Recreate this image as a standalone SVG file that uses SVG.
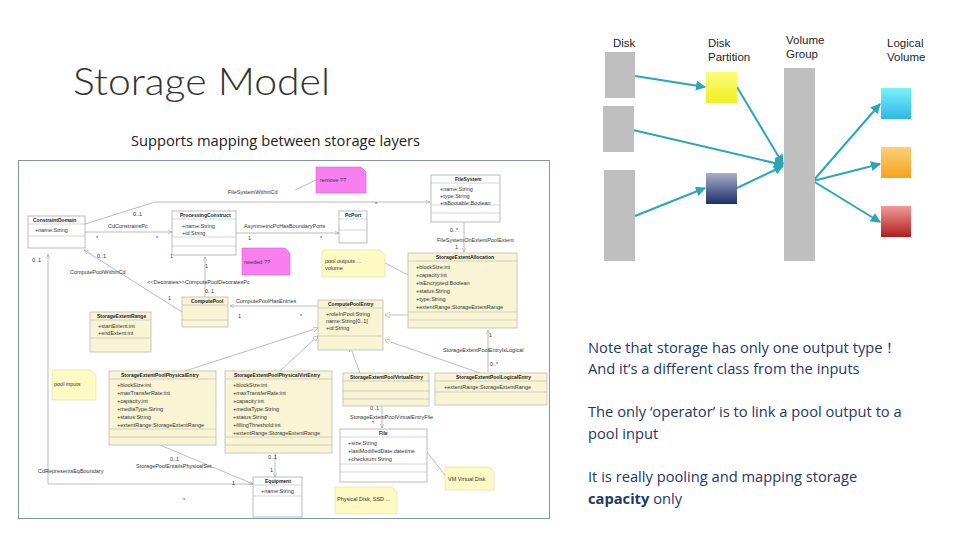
<svg xmlns="http://www.w3.org/2000/svg" width="960" height="540" viewBox="0 0 960 540">
<defs>
<marker id="ah" viewBox="0 0 10 10" refX="9" refY="5" markerWidth="5" markerHeight="5" orient="auto"><path d="M0,0L10,5L0,10z" fill="#2aa6b8"/></marker>
<marker id="oa" viewBox="0 0 10 10" refX="9" refY="5" markerWidth="6" markerHeight="6" orient="auto"><path d="M0,1L9,5L0,9" fill="none" stroke="#999"/></marker>
<marker id="tri" viewBox="0 0 10 10" refX="9" refY="5" markerWidth="7" markerHeight="7" orient="auto"><path d="M0,0L9,5L0,10z" fill="#fff" stroke="#999"/></marker>
<linearGradient id="gy" x1="0" y1="0" x2="0" y2="1"><stop offset="0" stop-color="#fbfb7a"/><stop offset="1" stop-color="#f0f020"/></linearGradient>
<linearGradient id="gb" x1="0" y1="0" x2="0" y2="1"><stop offset="0" stop-color="#aab0c8"/><stop offset="1" stop-color="#1c2e6a"/></linearGradient>
<linearGradient id="gc" x1="0" y1="0" x2="0" y2="1"><stop offset="0" stop-color="#7af0fc"/><stop offset="1" stop-color="#2fb8e6"/></linearGradient>
<linearGradient id="go" x1="0" y1="0" x2="0" y2="1"><stop offset="0" stop-color="#fcd07a"/><stop offset="1" stop-color="#f5a21c"/></linearGradient>
<linearGradient id="gr" x1="0" y1="0" x2="0" y2="1"><stop offset="0" stop-color="#f29a9a"/><stop offset="1" stop-color="#b01e1e"/></linearGradient>
</defs>
<style>
.t{font-family:"Liberation Sans",Arial,sans-serif}
.body{font-family:"Open Sans","Liberation Sans",sans-serif;fill:#1f3864;font-size:14.7px}
.lbl{font-family:"Liberation Sans",Arial,sans-serif;font-size:11.5px;fill:#222}
.u{font-family:"Liberation Sans",Arial,sans-serif;font-size:5.5px;fill:#333}
.uh{font-family:"Liberation Sans",Arial,sans-serif;font-size:5px;fill:#222;font-weight:bold}
.cw{fill:#fff;stroke:#aaa;stroke-width:0.8}
.cy{fill:#f8f4d4;stroke:#bbb;stroke-width:0.8}
.sep{stroke:#bbb;stroke-width:0.6}
.note{fill:#fff9c4;stroke:#dddd99;stroke-width:0.6}
.pink{fill:#f97ef0;stroke:#e060e0;stroke-width:0.6}
.ln{fill:none;stroke:#aaa;stroke-width:0.8}
.gray{fill:#bfbfbf}
.arr{stroke:#2aa6b8;stroke-width:2;marker-end:url(#ah)}
</style>
<rect width="960" height="540" fill="#fff"/>
<text x="73" y="95" class="t" font-size="38" fill="#333" textLength="257" lengthAdjust="spacingAndGlyphs" style="font-family:Lato,'Liberation Sans',sans-serif;font-weight:300">Storage Model</text>
<text x="131" y="146" class="body" style="fill:#222">Supports mapping between storage layers</text>

<g id="uml">
<rect x="18.5" y="160.5" width="531" height="358" fill="#fff" stroke="#7f97a8" stroke-width="1"/>
<g id="uml-connectors">
<path class="ln" d="M85,224L155,202L430,202" marker-end="url(#oa)"/>
<path class="ln" d="M85,232L172,232" marker-end="url(#oa)"/>
<path class="ln" d="M236,233L339,233" marker-end="url(#oa)"/>
<path class="ln" d="M205,297L205,257" marker-end="url(#oa)"/>
<path class="ln" d="M182,312L84,250" marker-end="url(#oa)"/>
<path class="ln" d="M318,306L230,306" marker-end="url(#oa)"/>
<path class="ln" d="M408,315L385,315" marker-end="url(#tri)"/>
<path class="ln" d="M464,222L464,252" marker-end="url(#oa)"/>
<path class="ln" d="M488,372L488,330" marker-end="url(#oa)"/>
<path class="ln" d="M185,371L318,328" marker-end="url(#tri)"/>
<path class="ln" d="M280,371L318,336" marker-end="url(#tri)"/>
<path class="ln" d="M360,373L350,346" marker-end="url(#tri)"/>
<path class="ln" d="M480,373L385,340" marker-end="url(#tri)"/>
<path class="ln" d="M382,406L382,428" marker-end="url(#oa)"/>
<path class="ln" d="M160,445L253,484" marker-end="url(#oa)"/>
<path class="ln" d="M275,453L275,477" marker-end="url(#oa)"/>
<path class="ln" d="M48,484L48,254" marker-end="url(#oa)"/>
<path class="ln" d="M48,484L253,484"/>
<path class="ln" d="M290,262L242,275"/>
<path class="ln" d="M385,263L408,275"/>
<path class="ln" d="M316,180L295,190"/>
<path class="ln" d="M427,452L445,475"/>
</g>
<g class="u">
<text x="228" y="194">FileSystemWithinCd</text>
<text x="133" y="216">0..1</text>
<text x="108" y="228">CdConstrainsPc</text>
<text x="96" y="240">*</text><text x="156" y="240">*</text>
<text x="32" y="262">0..1</text><text x="97" y="258">0..1</text>
<text x="70" y="274">ComputePoolWithinCd</text>
<text x="170" y="258">1</text><text x="205" y="268">1</text>
<text x="147" y="284">&lt;&lt;Decorates&gt;&gt;ComputePoolDecoratesPc</text>
<text x="205" y="293">0..1</text>
<text x="168" y="300">1</text>
<text x="244" y="228">AsymmetricPcHasBoundaryPorts</text>
<text x="248" y="240">1</text><text x="320" y="240">*</text>
<text x="236" y="303">ComputePoolHasEntries</text>
<text x="238" y="318">1</text><text x="300" y="318">*</text>
<text x="375" y="206">*</text>
<text x="450" y="232">0..*</text>
<text x="437" y="242">FileSystemOnExtentPoolExtent</text>
<text x="455" y="249">1</text>
<text x="489" y="337">1</text>
<text x="443" y="352">StorageExtentPoolEntryIsLogical</text>
<text x="490" y="366">0..*</text>
<text x="370" y="410">0..1</text>
<text x="350" y="419">StorageExtentPoolVirtualEntryFile</text>
<text x="372" y="425">*</text>
<text x="170" y="461">0..1</text>
<text x="136" y="468">StoragePoolEntailsPhysicalSet</text>
<text x="268" y="459">0..1</text><text x="270" y="472">1</text>
<text x="232" y="485">1</text>
<text x="38" y="473">CdRepresentsEqBoundary</text>
<text x="183" y="502">*</text>
</g>
<g id="c-constraintdomain"><rect class="cw" x="28" y="216" width="57" height="32"/><line class="sep" x1="28" y1="224" x2="85" y2="224"/><line class="sep" x1="28" y1="236" x2="85" y2="236"/><text class="uh" x="33" y="222">ConstraintDomain</text><text class="u" x="35" y="232">+name:String</text></g>
<g id="c-processingconstruct"><rect class="cw" x="172" y="211" width="64" height="44"/><line class="sep" x1="172" y1="219" x2="236" y2="219"/><line class="sep" x1="172" y1="237" x2="236" y2="237"/><line class="sep" x1="172" y1="246" x2="236" y2="246"/><text class="uh" x="180" y="217">ProcessingConstruct</text><text class="u" x="182" y="228">+name:String</text><text class="u" x="182" y="235">+id:String</text></g>
<g id="c-pcport"><rect class="cw" x="339" y="211" width="28" height="32"/><line class="sep" x1="339" y1="219" x2="367" y2="219"/><line class="sep" x1="339" y1="230" x2="367" y2="230"/><text class="uh" x="345" y="217">PcPort</text></g>
<g id="c-filesystem"><rect class="cw" x="431" y="175" width="69" height="47"/><line class="sep" x1="431" y1="183" x2="500" y2="183"/><line class="sep" x1="431" y1="205" x2="500" y2="205"/><line class="sep" x1="431" y1="213" x2="500" y2="213"/><text class="uh" x="455" y="181">FileSystem</text><text class="u" x="440" y="191">+name:String</text><text class="u" x="440" y="198">+type:String</text><text class="u" x="440" y="205">+isBootable:Boolean</text></g>
<g id="c-computepool"><rect class="cy" x="182" y="297" width="46" height="30"/><line class="sep" x1="182" y1="305" x2="228" y2="305"/><line class="sep" x1="182" y1="320" x2="228" y2="320"/><text class="uh" x="191" y="303">ComputePool</text></g>
<g id="c-storageextentrange"><rect class="cy" x="90" y="312" width="61" height="40"/><line class="sep" x1="90" y1="320" x2="151" y2="320"/><line class="sep" x1="90" y1="338" x2="151" y2="338"/><text class="uh" x="97" y="318">StorageExtentRange</text><text class="u" x="98" y="328">+startExtent:int</text><text class="u" x="98" y="335">+endExtent:int</text></g>
<g id="c-computepoolentry"><rect class="cy" x="318" y="300" width="65" height="50"/><line class="sep" x1="318" y1="308" x2="383" y2="308"/><line class="sep" x1="318" y1="336" x2="383" y2="336"/><text class="uh" x="328" y="306">ComputePoolEntry</text><text class="u" x="326" y="316">+roleInPool:String</text><text class="u" x="326" y="323">name:String[0..1]</text><text class="u" x="326" y="330">+id:String</text></g>
<g id="c-storageextentallocation"><rect class="cy" x="408" y="253" width="109" height="75"/><line class="sep" x1="408" y1="261" x2="517" y2="261"/><line class="sep" x1="408" y1="312" x2="517" y2="312"/><line class="sep" x1="408" y1="320" x2="517" y2="320"/><text class="uh" x="436" y="259">StorageExtentAllocation</text><text class="u" x="416" y="269">+blockSize:int</text><text class="u" x="416" y="277">+capacity:int</text><text class="u" x="416" y="285">+isEncrypted:Boolean</text><text class="u" x="416" y="293">+status:String</text><text class="u" x="416" y="301">+type:String</text><text class="u" x="416" y="309">+extentRange:StorageExtentRange</text></g>
<g id="c-physical"><rect class="cy" x="109" y="371" width="107" height="74"/><line class="sep" x1="109" y1="379" x2="216" y2="379"/><line class="sep" x1="109" y1="429" x2="216" y2="429"/><line class="sep" x1="109" y1="437" x2="216" y2="437"/><text class="uh" x="121" y="377">StorageExtentPoolPhysicalEntry</text><text class="u" x="117" y="387">+blockSize:int</text><text class="u" x="117" y="395">+maxTransferRate:int</text><text class="u" x="117" y="403">+capacity:int</text><text class="u" x="117" y="411">+mediaType:String</text><text class="u" x="117" y="419">+status:String</text><text class="u" x="117" y="427">+extentRange:StorageExtentRange</text></g>
<g id="c-physvirt"><rect class="cy" x="225" y="371" width="107" height="82"/><line class="sep" x1="225" y1="379" x2="332" y2="379"/><line class="sep" x1="225" y1="437" x2="332" y2="437"/><line class="sep" x1="225" y1="445" x2="332" y2="445"/><text class="uh" x="234" y="377">StorageExtentPoolPhysicalVirtEntry</text><text class="u" x="233" y="387">+blockSize:int</text><text class="u" x="233" y="395">+maxTransferRate:int</text><text class="u" x="233" y="403">+capacity:int</text><text class="u" x="233" y="411">+mediaType:String</text><text class="u" x="233" y="419">+status:String</text><text class="u" x="233" y="427">+fillingThreshold:int</text><text class="u" x="233" y="435">+extentRange:StorageExtentRange</text></g>
<g id="c-virtual"><rect class="cy" x="343" y="373" width="86" height="33"/><line class="sep" x1="343" y1="381" x2="429" y2="381"/><line class="sep" x1="343" y1="391" x2="429" y2="391"/><line class="sep" x1="343" y1="399" x2="429" y2="399"/><text class="uh" x="350" y="379">StorageExtentPoolVirtualEntry</text></g>
<g id="c-logical"><rect class="cy" x="435" y="373" width="112" height="32"/><line class="sep" x1="435" y1="381" x2="547" y2="381"/><line class="sep" x1="435" y1="392" x2="547" y2="392"/><text class="uh" x="456" y="379">StorageExtentPoolLogicalEntry</text><text class="u" x="444" y="389">+extentRange:StorageExtentRange</text></g>
<g id="c-file"><rect class="cw" x="340" y="429" width="87" height="53"/><line class="sep" x1="340" y1="437" x2="427" y2="437"/><line class="sep" x1="340" y1="464" x2="427" y2="464"/><line class="sep" x1="340" y1="472" x2="427" y2="472"/><text class="uh" x="379" y="435">File</text><text class="u" x="348" y="445">+size:String</text><text class="u" x="348" y="453">+lastModifiedDate:datetime</text><text class="u" x="348" y="461">+checksum:String</text></g>
<g id="c-equipment"><rect class="cw" x="253" y="477" width="49" height="40"/><line class="sep" x1="253" y1="485" x2="302" y2="485"/><line class="sep" x1="253" y1="496" x2="302" y2="496"/><text class="uh" x="265" y="483">Equipment</text><text class="u" x="261" y="493">+name:String</text></g>
<g id="n-remove"><path class="pink" d="M316,167H361L366,172V193H316Z"/><text class="u" x="320" y="182">remove ??</text></g>
<g id="n-needed"><path class="pink" d="M242,248H285L290,253V275H242Z"/><text class="u" x="244" y="264">needed ??</text></g>
<g id="n-poolout"><path class="note" d="M322,250H380L385,255V277H322Z"/><text class="u" x="325" y="263">pool outputs ...</text><text class="u" x="325" y="270">volume</text></g>
<g id="n-poolin"><path class="note" d="M52,370H91L96,375V400H52Z"/><text class="u" x="54" y="386">pool inputs</text></g>
<g id="n-vm"><path class="note" d="M445,467H489L494,472V490H445Z"/><text class="u" x="448" y="481">VM Virtual Disk</text></g>
<g id="n-phys"><path class="note" d="M335,487H392L397,492V514H335Z"/><text class="u" x="337" y="501">Physical Disk, SSD ...</text></g>
</g>

<g id="layer-connectors">
<line class="arr" x1="635" y1="76" x2="705" y2="87"/>
<line class="arr" x1="633" y1="130" x2="783" y2="165"/>
<line class="arr" x1="635" y1="216" x2="705" y2="188"/>
<line class="arr" x1="737" y1="87" x2="783" y2="164"/>
<line class="arr" x1="737" y1="188" x2="783" y2="166"/>
<line class="arr" x1="813" y1="181" x2="880" y2="104"/>
<line class="arr" x1="813" y1="181" x2="880" y2="164"/>
<line class="arr" x1="813" y1="181" x2="880" y2="222"/>
</g>
<g id="disk1"><rect class="gray" x="605" y="52" width="30" height="46"/></g>
<g id="disk2"><rect class="gray" x="603" y="106" width="31" height="46"/></g>
<g id="disk3"><rect class="gray" x="604" y="170" width="31" height="91"/></g>
<text x="613" y="47" class="lbl">Disk</text>
<g id="part1"><rect fill="url(#gy)" x="706" y="72" width="31" height="31"/></g>
<g id="part2"><rect fill="url(#gb)" x="706" y="173" width="31" height="31"/></g>
<text class="lbl" x="708" y="47">Disk</text><text class="lbl" x="708" y="61">Partition</text>
<g id="vg"><rect class="gray" x="784" y="68" width="31" height="193"/></g>
<text class="lbl" x="786" y="44">Volume</text><text class="lbl" x="786" y="58">Group</text>
<g id="lv1"><rect fill="url(#gc)" x="881" y="88" width="30" height="31"/></g>
<g id="lv2"><rect fill="url(#go)" x="881" y="147" width="30" height="31"/></g>
<g id="lv3"><rect fill="url(#gr)" x="881" y="206" width="30" height="31"/></g>
<text class="lbl" x="887" y="47">Logical</text><text class="lbl" x="887" y="61">Volume</text>

<g id="notes">
<text class="body" x="588" y="353">Note that storage has only one output type！</text>
<text class="body" x="588" y="374">And it’s a different class from the inputs</text>
<text class="body" x="588" y="417">The only ‘operator’ is to link a pool output to a</text>
<text class="body" x="588" y="439">pool input</text>
<text class="body" x="588" y="482">It is really pooling and mapping storage</text>
<text class="body" x="588" y="504"><tspan font-weight="bold">capacity</tspan> only</text>
</g>
</svg>
